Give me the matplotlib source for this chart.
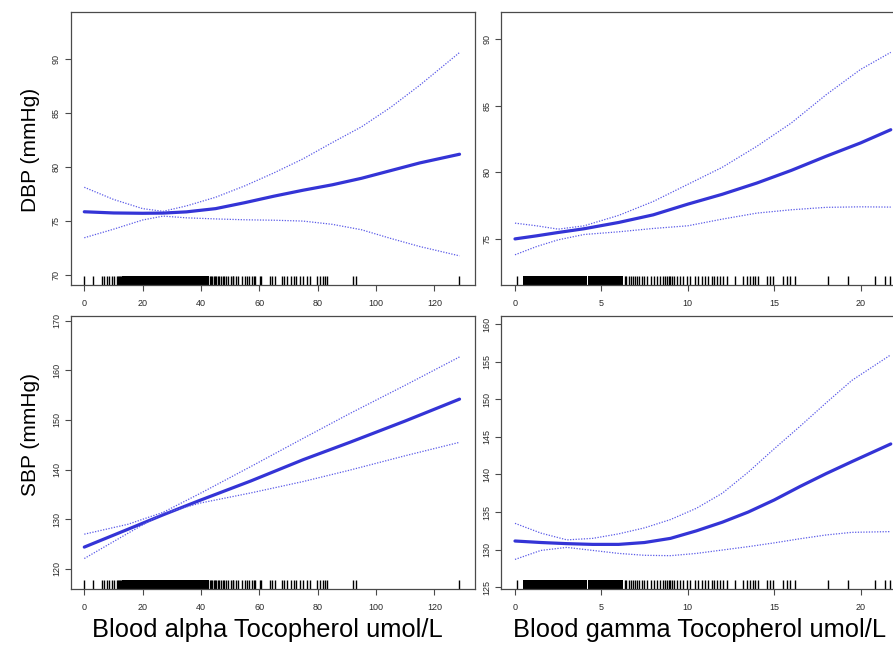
import matplotlib
matplotlib.use("Agg")
import matplotlib.pyplot as plt
import matplotlib.patches as patches
import matplotlib.transforms as mtransforms

plt.rcParams['font.family'] = ['Liberation Sans', 'DejaVu Sans']

# ---- data ----
# alpha tocopherol vs DBP
alpha_x_dbp = [0, 10, 20, 27, 35, 45, 55, 65, 75, 85, 95, 105, 115, 128.6]
dbp_alpha_fit = [75.86, 75.75, 75.72, 75.74, 75.85, 76.15, 76.7, 77.3, 77.85, 78.35, 78.95, 79.66, 80.37, 81.17]
dbp_alpha_hi = [78.12, 77.0, 76.15, 75.9, 76.4, 77.2, 78.25, 79.45, 80.75, 82.25, 83.7, 85.5, 87.55, 90.56]
dbp_alpha_lo = [73.46, 74.25, 75.1, 75.46, 75.3, 75.2, 75.12, 75.08, 75.0, 74.7, 74.2, 73.4, 72.65, 71.79]

# gamma tocopherol vs DBP
gamma_x_dbp = [0, 1.25, 2.5, 4, 6, 8, 10, 12, 14, 16, 18, 20, 21.75]
dbp_gamma_fit = [75.02, 75.25, 75.5, 75.78, 76.25, 76.82, 77.62, 78.36, 79.2, 80.15, 81.2, 82.2, 83.19]
dbp_gamma_hi = [76.2, 76.0, 75.75, 76.0, 76.78, 77.82, 79.1, 80.38, 81.95, 83.7, 85.8, 87.7, 88.98]
dbp_gamma_lo = [73.83, 74.45, 74.95, 75.35, 75.55, 75.8, 76.0, 76.5, 76.95, 77.2, 77.38, 77.42, 77.4]

# alpha tocopherol vs SBP
alpha_x_sbp = [0, 15, 27, 40, 57, 75, 91, 110, 128.6]
sbp_alpha_fit = [124.4, 128.0, 130.9, 133.9, 137.7, 142.0, 145.5, 149.8, 154.2]
sbp_alpha_hi = [127.0, 129.0, 131.4, 135.3, 140.6, 146.3, 151.3, 157.0, 162.7]
sbp_alpha_lo = [122.1, 127.2, 131.2, 133.3, 135.3, 137.6, 139.9, 142.8, 145.5]

# gamma tocopherol vs SBP
gamma_x_sbp = [0, 1.5, 3, 4.5, 6, 7.5, 9, 10.5, 12, 13.5, 15, 16.5, 18, 19.5, 21.75]
sbp_gamma_fit = [131.15, 130.95, 130.8, 130.7, 130.7, 130.95, 131.5, 132.5, 133.65, 135.0, 136.6, 138.4, 140.1, 141.7, 144.05]
sbp_gamma_hi = [133.5, 132.2, 131.3, 131.5, 132.1, 132.9, 134.0, 135.5, 137.5, 140.3, 143.4, 146.4, 149.5, 152.5, 155.9]
sbp_gamma_lo = [128.7, 129.9, 130.3, 129.9, 129.5, 129.25, 129.2, 129.5, 129.95, 130.4, 130.9, 131.45, 131.95, 132.3, 132.4]

# rug: single observations, plus ranges where the ticks merge into a solid block
alpha_rug = [0.0, 3.1, 5.9, 6.9, 7.7, 8.6, 9.4, 10.3, 11.1, 11.7, 12.0, 12.3, 12.6,
             43.0, 43.4, 43.9, 44.3, 44.8, 45.2, 45.7, 46.3, 46.8, 47.4, 48.0, 48.6,
             49.2, 50.4, 50.8, 51.1, 51.9, 52.8, 54.0, 55.0, 55.7, 56.4, 57.4, 58.0,
             58.5, 60.2, 60.7, 63.5, 64.2, 65.4, 67.7, 68.5, 69.4, 70.8, 71.7, 72.5,
             74.0, 75.1, 76.2, 77.4, 79.7, 80.8, 81.7, 82.5, 83.3, 92.0, 93.1, 128.5]
alpha_rug_dense = [(12.9, 42.6)]
gamma_rug = [0.1, 6.35, 6.45, 6.6, 6.7, 6.85, 6.95, 7.05, 7.2, 7.33, 7.47, 7.62,
             7.85, 8.04, 8.2, 8.39, 8.58, 8.7, 8.78, 8.9, 8.97, 9.1, 9.2, 9.36, 9.55,
             9.74, 9.93, 10.13, 10.42, 10.61, 10.8, 11.0, 11.19, 11.38, 11.52, 11.67,
             11.86, 12.06, 12.25, 12.73, 13.21, 13.41, 13.6, 13.76, 13.89, 14.08,
             14.57, 14.76, 14.95, 15.53, 15.72, 15.91, 16.2, 18.13, 19.29, 20.83,
             21.41, 21.72]
gamma_rug_dense = [(0.45, 4.15), (4.23, 6.25)]

alpha_ticks = [0, 20, 40, 60, 80, 100, 120]
gamma_ticks = [0, 5, 10, 15, 20]

W, H = 893, 645
fig = plt.figure(figsize=(W / 100, H / 100), dpi=100)


def px_axes(left, top, right, bottom):
    return fig.add_axes([left / W, 1 - bottom / H, (right - left) / W, (bottom - top) / H])


def panel(ax, x, fit, hi, lo, rug, rug_dense, xlim, ylim, xticks, yticks):
    line_col = '#3434d6'
    ci_col = '#5a5ae8'
    ax.plot(x, fit, color=line_col, lw=2.3, solid_capstyle='round', solid_joinstyle='round')
    ax.plot(x, hi, color=ci_col, lw=0.9, ls=(0, (1, 1.2)))
    ax.plot(x, lo, color=ci_col, lw=0.9, ls=(0, (1, 1.2)))
    # rug along the bottom of the panel
    trans = mtransforms.blended_transform_factory(ax.transData, ax.transAxes)
    ax.vlines(rug, 0, 0.033, transform=trans, color='black', lw=1.0)
    for a, b in rug_dense:
        ax.add_patch(patches.Rectangle((a, 0), b - a, 0.033, transform=trans,
                                       facecolor='black', edgecolor='none'))
    ax.set_xlim(*xlim)
    ax.set_ylim(*ylim)
    ax.set_xticks(xticks)
    ax.set_yticks(yticks)
    for s in ax.spines.values():
        s.set_color('#4a4a4a')
        s.set_linewidth(0.9)
    ax.tick_params(axis='both', direction='out', length=4, width=0.8, color='#4a4a4a',
                   labelsize=6.5, labelcolor='#2a2a2a')
    ax.tick_params(axis='x', pad=6)
    ax.tick_params(axis='y', pad=3)
    for lab in ax.get_yticklabels():
        lab.set_rotation(90)
        lab.set_va('center')


ax1 = px_axes(70.7, 12, 475, 285)
panel(ax1, alpha_x_dbp, dbp_alpha_fit, dbp_alpha_hi, dbp_alpha_lo, alpha_rug, alpha_rug_dense,
      (-4.66, 133.9), (69.1, 94.3), alpha_ticks, [70, 75, 80, 85, 90])

ax2 = px_axes(501, 12, 907, 285)
panel(ax2, gamma_x_dbp, dbp_gamma_fit, dbp_gamma_hi, dbp_gamma_lo, gamma_rug, gamma_rug_dense,
      (-0.81, 22.69), (71.57, 92.0), gamma_ticks, [75, 80, 85, 90])

ax3 = px_axes(70.7, 315.7, 475, 589.3)
panel(ax3, alpha_x_sbp, sbp_alpha_fit, sbp_alpha_hi, sbp_alpha_lo, alpha_rug, alpha_rug_dense,
      (-4.66, 133.9), (115.9, 171.0), alpha_ticks, [120, 130, 140, 150, 160, 170])

ax4 = px_axes(501, 315.7, 907, 589.3)
panel(ax4, gamma_x_sbp, sbp_gamma_fit, sbp_gamma_hi, sbp_gamma_lo, gamma_rug, gamma_rug_dense,
      (-0.81, 22.69), (124.73, 161.1), gamma_ticks, [125, 130, 135, 140, 145, 150, 155, 160])

fig.text(30 / W, 1 - 150 / H, 'DBP (mmHg)', rotation=90, ha='center', va='center', fontsize=15)
fig.text(30 / W, 1 - 435 / H, 'SBP (mmHg)', rotation=90, ha='center', va='center', fontsize=15)
fig.text(92 / W, 1 - 630 / H, 'Blood alpha Tocopherol umol/L', ha='left', va='center', fontsize=18.4)
fig.text(513 / W, 1 - 630 / H, 'Blood gamma Tocopherol umol/L', ha='left', va='center', fontsize=18.4)

fig.savefig('out.png', dpi=100)
